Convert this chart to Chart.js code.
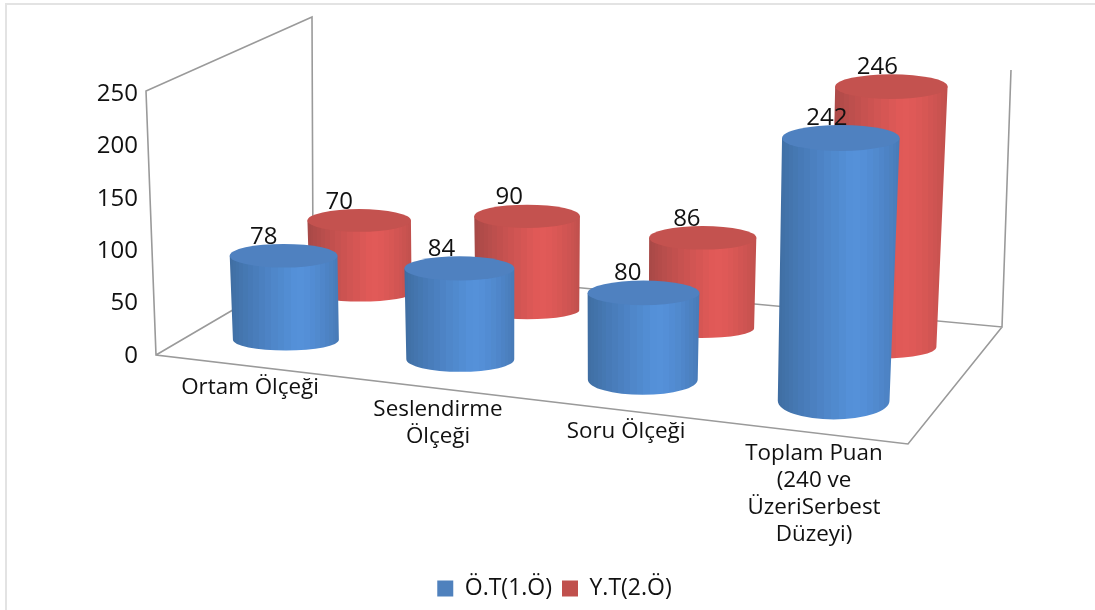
<!DOCTYPE html>
<html><head><meta charset="utf-8">
<style>
html,body{margin:0;padding:0;background:#fff;overflow:hidden}
#w{position:relative;width:1095px;height:610px}
#f{position:absolute;left:5px;top:3px;right:0;bottom:0;border-top:2px solid #e3e3e3;border-left:2px solid #e3e3e3;box-sizing:border-box}
canvas{position:absolute;left:0;top:0}
</style>
<script src="https://cdn.jsdelivr.net/npm/chart.js@4/dist/chart.umd.min.js"></script>
</head><body><div id="w"><div id="f"></div><canvas id="c" width="1095" height="610"></canvas></div>
<script>
const categories = [['Ortam Ölçeği'], ['Seslendirme','Ölçeği'], ['Soru Ölçeği'], ['Toplam Puan','(240 ve','ÜzeriSerbest','Düzeyi)']];
const seriesNames = ['Ö.T(1.Ö)', 'Y.T(2.Ö)'];
const valuesOT = [78, 84, 80, 242];
const valuesYT = [70, 90, 86, 246];
const yTicks = [0, 50, 100, 150, 200, 250];

const FONT = '"Open Sans", sans-serif', FS_NUM = 24, FS_CAT = 22.4, FS_LEG = 23, TXT = '#111';
const LEFT = 146, TOP = 94, BOTTOM = 356;
const PAL = [
  {top:'#4f81c0', dark:[62,108,160], mid:[85,145,218], edge:[72,122,182]},
  {top:'#c4524f', dark:[165,72,70], mid:[226,90,88], edge:[192,80,77]}
];

// floor and wall frame of the 3D box
const FL=[156,355], FR=[908,444], BR=[1002,327], BL=[313,263], WTL=[146,91], WTB=[312,17], WTR=[1011,70];
function makeHomography(p0,p1,p2,p3){
  const dx1=p1[0]-p2[0], dx2=p3[0]-p2[0], sx=p0[0]-p1[0]+p2[0]-p3[0];
  const dy1=p1[1]-p2[1], dy2=p3[1]-p2[1], sy=p0[1]-p1[1]+p2[1]-p3[1];
  const det=dx1*dy2-dx2*dy1;
  const g=(sx*dy2-dx2*sy)/det, h=(dx1*sy-sx*dy1)/det;
  const a=p1[0]-p0[0]+g*p1[0], b=p3[0]-p0[0]+h*p3[0], c=p0[0];
  const d=p1[1]-p0[1]+g*p1[1], e=p3[1]-p0[1]+h*p3[1], f=p0[1];
  return (u,v)=>{const w=g*u+h*v+1; return [(a*u+b*v+c)/w,(d*u+e*v+f)/w];};
}
const floor = makeHomography(FL,FR,BR,BL);
function widthScale(u,v){ const f=1+0.08*u, b=0.93+0.05*u; return f+(b-f)*v; }
function heightScale(u,v){ const f=1.05, b=0.96+0.04*u; return f+(b-f)*v; }
function rgb(c){return 'rgb('+c.map(Math.round).join(',')+')';}
function mix(a,b,t){return a.map((x,i)=>x+(b[i]-x)*t);}

function drawCylinder(chart,ds,i){
  const ctx=chart.ctx, meta=chart.getDatasetMeta(ds), el=meta.data[i];
  const xs=chart.scales.x, ys=chart.scales.y, ca=chart.chartArea;
  const u0=(xs.getPixelForValue(i)-ca.left)/ca.width;
  const u=u0+0.019-0.0685*(u0-0.45)*(u0-0.45), v=(ds+0.5)/2-0.03*u0*ds;
  const b=floor(u,v), kw=widthScale(u,v), kh=heightScale(u,v);
  const H=(ys.getPixelForValue(0)-el.y)*kh;
  const rB=el.width/2*kw, rT=rB*(1+2e-4*H);
  const dy=Math.max(0,b[1]-292);
  const ryB=rB*(0.17+1.4e-5*dy*dy), ryT=rT*0.22;
  const t=[b[0]+(b[0]-560)*1.0e-4*H, b[1]-H];
  const p=PAL[ds];
  ctx.save();
  ctx.beginPath();
  ctx.moveTo(t[0]-rT,t[1]);
  ctx.lineTo(b[0]-rB,b[1]);
  ctx.ellipse(b[0],b[1],rB,ryB,0,Math.PI,0,true);
  ctx.lineTo(t[0]+rT,t[1]);
  ctx.closePath();
  const gx0=Math.min(t[0]-rT,b[0]-rB), gx1=Math.max(t[0]+rT,b[0]+rB);
  const g=ctx.createLinearGradient(gx0,0,gx1,0);
  const N=26;
  for(let n=0;n<N;n++){
    const a0=Math.PI*(1-n/N), a1=Math.PI*(1-(n+1)/N);
    const s0=(1+Math.cos(a0))/2, s1=(1+Math.cos(a1))/2, am=(s0+s1)/2;
    const c= am<0.62 ? mix(p.dark,p.mid,Math.pow(am/0.62,0.8)) : mix(p.mid,p.edge,Math.pow((am-0.62)/0.38,1.6));
    g.addColorStop(s0,rgb(c)); g.addColorStop(s1,rgb(c));
  }
  ctx.fillStyle=g; ctx.fill();
  ctx.beginPath();
  ctx.ellipse(t[0],t[1],rT,ryT,0,0,Math.PI*2);
  ctx.fillStyle=p.top; ctx.fill();
  ctx.restore();
  return {t,rT,ryT,u};
}
const box3d={
  id:'box3d',
  beforeDatasetDraw(){return false;},
  beforeDatasetsDraw(chart){
    const ctx=chart.ctx; ctx.save();
    ctx.strokeStyle='#9a9a9a'; ctx.lineWidth=1.6; ctx.lineJoin='miter';
    ctx.beginPath();
    ctx.moveTo(...WTR); ctx.lineTo(...BR); ctx.lineTo(...BL); ctx.lineTo(...WTB); ctx.lineTo(...WTL); ctx.lineTo(...FL);
    ctx.lineTo(...FR); ctx.lineTo(...BR);
    ctx.moveTo(...FL); ctx.lineTo(...BL);
    ctx.stroke(); ctx.restore();
  },
  afterDatasetsDraw(chart){
    const ctx=chart.ctx, tops=[];
    [1,0].forEach(ds=>{
      chart.data.labels.forEach((_,i)=>{ tops.push({ds,i,...drawCylinder(chart,ds,i)}); });
    });
    ctx.save();
    ctx.fillStyle=TXT; ctx.textAlign='center'; ctx.textBaseline='middle';
    ctx.font=FS_NUM+'px '+FONT;
    tops.forEach(o=>{
      ctx.fillText(String(chart.data.datasets[o.ds].data[o.i]), o.t[0]-21+8*o.u, o.t[1]-o.ryT-7);
    });
    ctx.font=FS_CAT+'px '+FONT;
    const xs=chart.scales.x, ca=chart.chartArea;
    chart.data.labels.forEach((lab,i)=>{
      const u=(xs.getPixelForValue(i)-ca.left)/ca.width;
      const qx=FL[0]+(FR[0]-FL[0])*u, qy=FL[1]+(FR[1]-FL[1])*u;
      lab.forEach((ln,j)=>ctx.fillText(ln,qx,qy+21+j*27));
    });
    ctx.restore();
  }
};
new Chart(document.getElementById('c'),{
  type:'bar',
  data:{labels:categories,datasets:[
    {label:seriesNames[0],data:valuesOT,backgroundColor:'#4f81bd',categoryPercentage:0.9,barPercentage:1},
    {label:seriesNames[1],data:valuesYT,backgroundColor:'#c0504d',categoryPercentage:0.9,barPercentage:1}
  ]},
  plugins:[box3d],
  options:{
    responsive:false,animation:false,
    layout:{padding:{left:14,top:TOP,right:0,bottom:0}},
    plugins:{tooltip:{enabled:false},
      legend:{position:'bottom',labels:{boxWidth:16,boxHeight:16,padding:10,color:TXT,font:{family:FONT,size:FS_LEG}}}},
    scales:{
      x:{grid:{display:false},border:{display:false},ticks:{display:false},
         afterFit(s){ s.height=610-BOTTOM-(s.chart.legend?s.chart.legend.height:43); }},
      y:{min:0,max:250,grid:{display:false},border:{display:false},
         afterBuildTicks(s){ s.ticks=yTicks.map(v=>({value:v})); },
         ticks:{color:TXT,padding:0,font:{family:FONT,size:FS_NUM}},
         afterFit(s){ s.width=LEFT-14; }}
    }
  }
});
</script></body></html>
